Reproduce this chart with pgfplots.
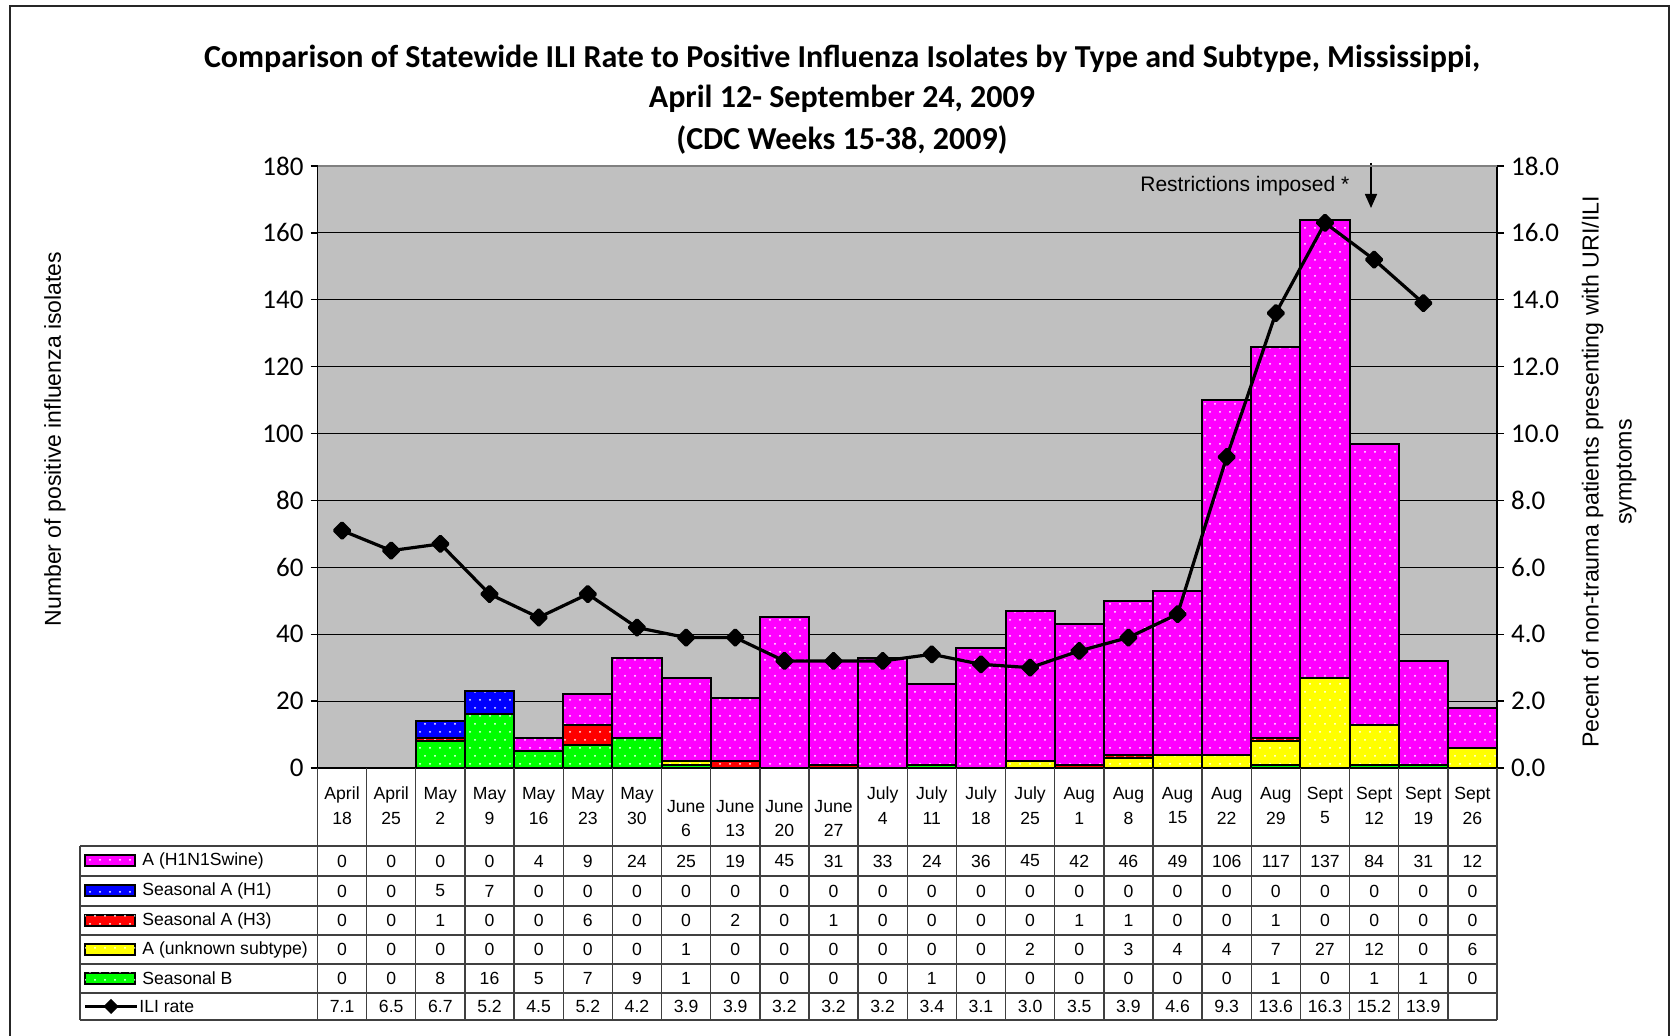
\documentclass[border=0pt]{standalone}
\usepackage{fontspec}
\setmainfont{Liberation Sans}
\newfontfamily\carlito{Carlito}
\usepackage{pgfplots}
\usepackage{pgfplotstable}
\pgfplotsset{compat=1.18}
\usetikzlibrary{patterns,arrows.meta}
\definecolor{plotgray}{HTML}{C0C0C0}
\definecolor{cmag}{RGB}{255,0,255}
\definecolor{cyel}{RGB}{255,255,0}
\definecolor{cgrn}{RGB}{0,255,0}
\definecolor{cred}{RGB}{255,0,0}
\definecolor{cblu}{RGB}{0,0,255}
\pgfdeclarepatternformonly{xdots}{\pgfqpoint{-0.6pt}{-0.6pt}}{\pgfqpoint{4.4pt}{7.4pt}}{\pgfqpoint{5pt}{8pt}}{%
  \pgfpathcircle{\pgfqpoint{0pt}{0pt}}{0.5pt}%
  \pgfpathcircle{\pgfqpoint{2.5pt}{4pt}}{0.5pt}%
  \pgfusepath{fill}}

\pgfplotstableread{
idx mon day h1n1 h1 h3 unk b
0 April 18 0 0 0 0 0
1 April 25 0 0 0 0 0
2 May 2 0 5 1 0 8
3 May 9 0 7 0 0 16
4 May 16 4 0 0 0 5
5 May 23 9 0 6 0 7
6 May 30 24 0 0 0 9
7 June 6 25 0 0 1 1
8 June 13 19 0 2 0 0
9 June 20 45 0 0 0 0
10 June 27 31 0 1 0 0
11 July 4 33 0 0 0 0
12 July 11 24 0 0 0 1
13 July 18 36 0 0 0 0
14 July 25 45 0 0 2 0
15 Aug 1 42 0 1 0 0
16 Aug 8 46 0 1 3 0
17 Aug 15 49 0 0 4 0
18 Aug 22 106 0 0 4 0
19 Aug 29 117 0 1 7 1
20 Sept 5 137 0 0 27 0
21 Sept 12 84 0 0 12 1
22 Sept 19 31 0 0 0 1
23 Sept 26 12 0 0 6 0
}\datatab

\pgfplotstableread{
idx ili
0 7.1
1 6.5
2 6.7
3 5.2
4 4.5
5 5.2
6 4.2
7 3.9
8 3.9
9 3.2
10 3.2
11 3.2
12 3.4
13 3.1
14 3.0
15 3.5
16 3.9
17 4.6
18 9.3
19 13.6
20 16.3
21 15.2
22 13.9
}\ilitab

\pgfplotsset{
  barsty/.style={draw=black, line width=1pt, postaction={pattern=xdots, pattern color=white}},
  common/.style={
    at={(158.75pt,-384pt)}, anchor=south west,
    scale only axis, width=589.75pt, height=301pt,
    xmin=-0.5, xmax=23.5, xtick=\empty, axis x line=none,
    tick align=outside, major tick length=3.5pt,
    y axis line style={line width=0.9pt, -},
    ytick style={black, line width=0.7pt},
    yticklabel style={font=\carlito\fontsize{13.5}{16}\selectfont},
    /pgf/number format/assume math mode=true,
  }
}
\tikzset{tabfont/.style={font=\fontsize{8.8}{10}\selectfont, inner sep=0pt}}

\begin{document}
\begin{tikzpicture}
\useasboundingbox (0,0) rectangle (836pt,-518pt);
\begin{axis}[common, name=ax1,
  ymin=0, ymax=180, ytick={0,20,...,180},
  axis y line*=left,
  ymajorgrids, grid style={black, line width=0.6pt},
  axis background/.style={fill=plotgray},
  ybar stacked, bar width=1,
]
\addplot[barsty, fill=cgrn] table[x=idx, y=b]{\datatab};
\addplot[barsty, fill=cyel] table[x=idx, y=unk]{\datatab};
\addplot[barsty, fill=cred] table[x=idx, y=h3]{\datatab};
\addplot[barsty, fill=cblu] table[x=idx, y=h1]{\datatab};
\addplot[barsty, fill=cmag] table[x=idx, y=h1n1]{\datatab};
\end{axis}
\begin{axis}[common, name=ax2,
  ymin=0, ymax=18, ytick={0,2,...,18},
  axis y line*=right,
  yticklabel={\pgfmathprintnumber[fixed, fixed zerofill, precision=1]{\tick}},
]
\addplot[black, line width=1.6pt, line join=round, mark=square*, mark size=2.7pt, mark options={rotate=45, solid}] table[x=idx, y=ili]{\ilitab};
\end{axis}

\begin{scope}[x=0.5pt, y=-0.5pt]
% frame
\draw[line width=1pt, black!85] (10,1045) -- (10,6) -- (1669,6) -- (1669,1045);
% title
\node[font=\carlito\bfseries\fontsize{16}{20}\selectfont] at (842,59) {Comparison of Statewide ILI Rate to Positive Influenza Isolates by Type and Subtype, Mississippi,};
\node[font=\carlito\bfseries\fontsize{16}{20}\selectfont] at (842,99) {April 12- September 24, 2009};
\node[font=\carlito\bfseries\fontsize{16}{20}\selectfont] at (842,140) {(CDC Weeks 15-38, 2009)};
% axis labels
\node[rotate=90, font=\fontsize{11.5}{14}\selectfont] at (55,439) {Number of positive influenza isolates};
\node[rotate=90, align=center, font=\fontsize{11.6}{16.5}\selectfont] at (1609,472) {Pecent of non-trauma patients presenting with URI/ILI\\symptoms};
% annotation
\node[anchor=base west, inner sep=0pt, font=\fontsize{10.5}{12}\selectfont] at (1140,192) {Restrictions imposed *};
\draw[line width=0.8pt, -{Triangle[length=7pt, width=6pt]}] (1371,163) -- (1371,208);
% top border gray
\draw[black!50, line width=0.6pt] (317.5,166) -- (1497,166);
% table lines
\draw[black, line width=0.9pt] (317.5,768) -- (1497,768);
\foreach \yy in {846,876,906,935,964,993,1020}{
  \draw[black!75, line width=0.7pt] (80,\yy) -- (1497,\yy);
}
\draw[black!75, line width=0.7pt] (80,846) -- (80,1020);
\foreach \k in {0,...,24}{
  \draw[black!75, line width=0.7pt] ({317.5+\k*49.1458},768) -- ({317.5+\k*49.1458},1020);
}
% headers and values
\foreach \i in {0,...,23}{
  \pgfmathsetmacro\cx{317.5+(\i+0.5)*49.1458}
  \pgfmathsetmacro\hs{and(\i>6,\i<11)*12}
  \pgfplotstablegetelem{\i}{mon}\of\datatab \let\cmon\pgfplotsretval
  \node[tabfont] at (\cx,795+\hs) {\cmon};
  \pgfplotstablegetelem{\i}{day}\of\datatab \let\cday\pgfplotsretval
  \node[tabfont] at (\cx,818+\hs) {\cday};
  \foreach \col/\yy in {h1n1/861,h1/891,h3/920.5,unk/949.5,b/978.5}{
    \pgfplotstablegetelem{\i}{\col}\of\datatab
    \node[tabfont] at (\cx,\yy) {\pgfplotsretval};
  }
}
\foreach \i in {0,...,22}{
  \pgfmathsetmacro\cx{317.5+(\i+0.5)*49.1458}
  \pgfplotstablegetelem{\i}{ili}\of\ilitab
  \node[tabfont] at (\cx,1006.5) {\pgfplotsretval};
}
% legend keys
\foreach \c/\yy/\t in {cmag/861/{A (H1N1Swine)}, cblu/891/{Seasonal A (H1)}, cred/920.5/{Seasonal A (H3)}, cyel/949.5/{A (unknown subtype)}, cgrn/978.5/{Seasonal B}}{
  \filldraw[fill=\c, draw=black, line width=1pt, postaction={pattern=xdots, pattern color=white}] (85,\yy-5.5) rectangle (135,\yy+5.5);
  \node[tabfont, anchor=west] at (142,\yy) {\t};
}
\draw[black, line width=1.6pt] (85,1006.5) -- (137,1006.5);
\fill[black] (111,999) -- (118.5,1006.5) -- (111,1014) -- (103.5,1006.5) -- cycle;
\node[tabfont, anchor=west] at (139,1006.5) {ILI rate};
\end{scope}
\end{tikzpicture}
\end{document}
